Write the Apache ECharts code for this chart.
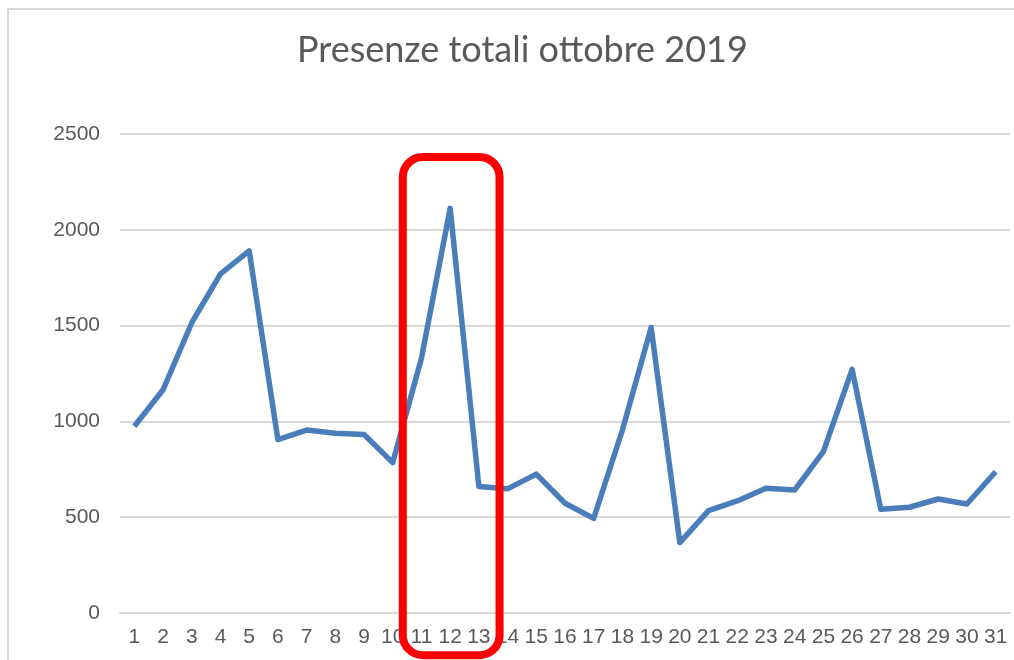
<!DOCTYPE html>
<html>
<head>
<meta charset="utf-8">
<script src="https://cdn.jsdelivr.net/npm/echarts@6/dist/echarts.min.js"></script>
<style>
    html, body { margin: 0; padding: 0; background: #fff; }
    #main { width: 1014px; height: 660px; }
    #frame {
        position: absolute; left: 7px; top: 8px; right: -10px; bottom: -10px;
        border-left: 2px solid #d9d9d9; border-top: 2px solid #d9d9d9;
        pointer-events: none;
    }
</style>
</head>
<body>
<div id="main"></div>
<div id="frame"></div>
<script>
// giorni di ottobre
var days = ['1','2','3','4','5','6','7','8','9','10','11','12','13','14','15','16',
    '17','18','19','20','21','22','23','24','25','26','27','28','29','30','31'];
// presenze giornaliere
var presenze = [975, 1165, 1515, 1770, 1890, 905, 955, 938, 932, 785, 1330, 2112, 660,
    648, 725, 573, 494, 955, 1490, 367, 534, 585, 651, 642, 842, 1272, 541, 552, 595, 569, 737];
var yTicks = { min: 0, max: 2500, interval: 500 };
// riquadro rosso: giorni evidenziati
var highlight = ['11', '13'];

var chartDom = document.getElementById('main');
var myChart = echarts.init(chartDom);
var option = {
    animation: false,
    title: {
        text: 'Presenze totali ottobre 2019',
        left: 292,
        top: 27,
        textStyle: {
            fontFamily: 'Lato',
            fontWeight: 'normal',
            fontSize: 36,
            color: '#595959'
        }
    },
    grid: {
        left: 120,
        right: 4,
        top: 134,
        bottom: 47
    },
    xAxis: {
        type: 'category',
        data: days,
        boundaryGap: true,
        axisLine: { show: true, lineStyle: { color: '#d9d9d9', width: 2 } },
        axisTick: { show: false },
        axisLabel: {
            interval: 0,
            margin: 14,
            fontFamily: 'Liberation Sans',
            fontSize: 21,
            color: '#595959'
        }
    },
    yAxis: {
        type: 'value',
        min: yTicks.min,
        max: yTicks.max,
        interval: yTicks.interval,
        axisLine: { show: false },
        axisTick: { show: false },
        splitLine: { lineStyle: { color: '#d9d9d9', width: 2 } },
        axisLabel: {
            margin: 20,
            fontFamily: 'Liberation Sans',
            fontSize: 21,
            color: '#595959',
            formatter: function (v) { return String(v); }
        }
    },
    series: [
        {
            name: 'Presenze',
            type: 'line',
            data: presenze,
            symbol: 'none',
            lineStyle: { color: '#4a7ebb', width: 5.5, join: 'round' }
        }
    ]
};
myChart.setOption(option);

// riquadro rosso intorno ai giorni 11-13
var i0 = days.indexOf(highlight[0]);
var i1 = days.indexOf(highlight[1]);
var x0 = myChart.convertToPixel({ xAxisIndex: 0 }, days[i0]);
var x1 = myChart.convertToPixel({ xAxisIndex: 0 }, days[i1]);
var step = (x1 - x0) / (i1 - i0);
var yTop = myChart.convertToPixel({ yAxisIndex: 0 }, 2380);
var yBottom = myChart.convertToPixel({ yAxisIndex: 0 }, -220);
var left = x0 - step * 0.65;
var right = x1 + step * 0.72;
myChart.setOption({
    graphic: [
        {
            type: 'rect',
            z: 100,
            shape: { x: left, y: yTop, width: right - left, height: yBottom - yTop, r: 20 },
            style: { fill: 'none', stroke: '#ff0000', lineWidth: 8 }
        }
    ]
});
</script>
</body>
</html>
